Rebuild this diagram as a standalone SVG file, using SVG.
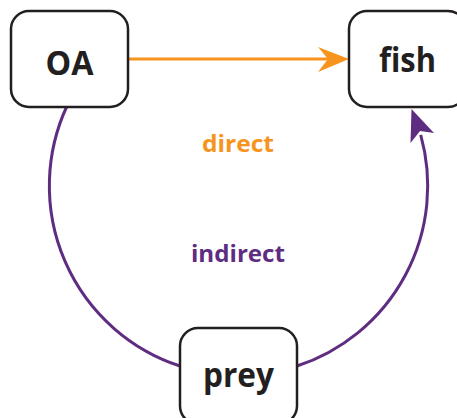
<svg xmlns="http://www.w3.org/2000/svg" width="457" height="418" viewBox="0 0 457 418">
<style>
.box{fill:#fff;stroke:#231f20;stroke-width:2.5}
.nt{font-family:"Open Sans","Liberation Sans",sans-serif;font-weight:bold;font-size:34px;fill:#231f20;text-anchor:middle}
.lbl{font-family:"Open Sans","Liberation Sans",sans-serif;font-weight:bold;font-size:24px;text-anchor:middle}
.or{stroke:#f7941d;stroke-width:3;fill:none}
.pu{stroke:#5e2d82;stroke-width:3;fill:none}
</style>
<rect width="457" height="418" fill="#fff"/>
<g id="connectors">
<line class="or" x1="128" y1="59" x2="330" y2="59"/>
<path d="M349,59 L318,47 L328,59 L318,72 Z" fill="#f7941d"/>
<path class="pu" d="M67,106 A189.5,189.5 0 0 0 180,366"/>
<path class="pu" d="M297,366 A189.5,189.5 0 0 0 420.7,134.8"/>
<path d="M411.5,109 L434,133 L420,131 L410.5,143 Z" fill="#5e2d82"/>
<text class="lbl" x="238" y="152" fill="#f7941d" textLength="72" lengthAdjust="spacingAndGlyphs">direct</text>
<text class="lbl" x="238" y="262" fill="#5e2d82" textLength="94" lengthAdjust="spacingAndGlyphs">indirect</text>
</g>
<g id="node-OA">
<rect class="box" x="11" y="11" width="117" height="96" rx="18"/>
<text class="nt" x="69.5" y="75" textLength="48" lengthAdjust="spacingAndGlyphs">OA</text>
</g>
<g id="node-fish">
<rect class="box" x="349" y="11" width="117" height="96" rx="18"/>
<text class="nt" x="407.5" y="72" textLength="57" lengthAdjust="spacingAndGlyphs">fish</text>
</g>
<g id="node-prey">
<rect class="box" x="180" y="328" width="117" height="96" rx="18"/>
<text class="nt" x="238.5" y="387" textLength="71" lengthAdjust="spacingAndGlyphs">prey</text>
</g>
</svg>
